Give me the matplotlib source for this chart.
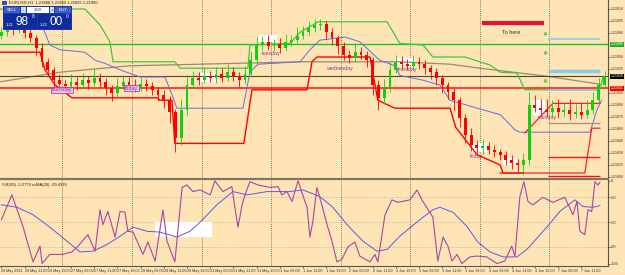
import numpy as np
import matplotlib.pyplot as plt
import matplotlib.transforms as mtrans
from matplotlib.patches import Rectangle
from matplotlib.lines import Line2D

plt.rcParams['font.family'] = ['Liberation Sans', 'DejaVu Sans']
BG = '#FFE4B5'

# EURUSD, 2-hour steps (bar index = hours from 26 May 03:00)
closes = [1.21981, 1.21986, 1.21984, 1.21989, 1.21980, 1.21974, 1.21961, 1.21944, 1.21934, 1.21921,
          1.21916, 1.21914, 1.21919, 1.21915, 1.21921, 1.21918, 1.21924, 1.21919, 1.21911, 1.21905,
          1.21914, 1.21919, 1.21915, 1.21911, 1.21916, 1.21914, 1.21909, 1.21903, 1.21896, 1.21881,
          1.21849, 1.21884, 1.21915, 1.21924, 1.21921, 1.21926, 1.21924, 1.21929, 1.21924, 1.21931,
          1.21926, 1.21921, 1.21929, 1.21946, 1.21965, 1.21969, 1.21964, 1.21966, 1.21961, 1.21969,
          1.21971, 1.21976, 1.21981, 1.21986, 1.21990, 1.21991, 1.21981, 1.21974, 1.21964, 1.21953,
          1.21949, 1.21956, 1.21953, 1.21946, 1.21915, 1.21899, 1.21911, 1.21934, 1.21944, 1.21941,
          1.21939, 1.21944, 1.21941, 1.21936, 1.21931, 1.21924, 1.21915, 1.21906, 1.21896, 1.21874,
          1.21853, 1.21840, 1.21836, 1.21839, 1.21834, 1.21831, 1.21828, 1.21821, 1.21818, 1.21815,
          1.21821, 1.21890, 1.21886, 1.21884, 1.21881, 1.21886, 1.21881, 1.21884, 1.21879, 1.21881,
          1.21878, 1.21884, 1.21896, 1.21915, 1.21926]
first_open = 1.21976
wick_up = [0.6, 0.9, 0.5, 0.8, 0.4, 0.5, 0.4, 0.6, 0.5, 0.4,
           0.8, 0.5, 1.0, 0.6, 0.9, 0.5, 1.1, 0.6, 0.5, 0.4,
           1.0, 0.8, 0.6, 0.7, 0.9, 0.6, 0.5, 0.4, 0.6, 0.5,
           0.4, 1.4, 1.2, 0.9, 0.7, 1.1, 0.6, 0.9, 0.7, 1.0,
           0.6, 0.5, 1.0, 1.2, 1.0, 0.7, 0.9, 0.6, 0.8, 1.0,
           0.7, 1.1, 0.8, 0.9, 0.7, 0.6, 0.4, 0.5, 0.4, 0.5,
           0.6, 1.0, 0.7, 0.5, 0.4, 0.6, 1.2, 1.0, 0.8, 0.7,
           0.6, 0.9, 0.6, 0.5, 0.4, 0.5, 0.4, 0.4, 0.5, 0.4,
           0.5, 0.8, 0.6, 0.9, 0.5, 0.6, 0.4, 0.5, 0.6, 0.4,
           0.9, 1.6, 1.3, 1.1, 1.4, 1.0, 1.2, 0.9, 1.3, 1.0,
           1.1, 1.2, 1.0, 0.9, 0.7]
wick_dn = [0.4, 0.5, 0.7, 0.4, 0.6, 0.5, 0.8, 0.6, 0.7, 0.9,
           0.5, 0.7, 0.4, 0.6, 0.5, 0.8, 0.4, 0.6, 0.9, 1.0,
           0.5, 0.4, 0.6, 0.5, 0.4, 0.6, 0.7, 0.8, 1.0, 1.4,
           1.8, 0.9, 0.6, 0.5, 0.6, 0.4, 0.5, 0.6, 0.5, 0.4,
           0.6, 0.8, 0.5, 0.4, 0.5, 0.6, 0.5, 0.7, 0.6, 0.4,
           0.5, 0.4, 0.3, 0.4, 0.5, 0.6, 0.8, 0.9, 1.0, 0.7,
           0.6, 0.5, 0.6, 0.9, 1.3, 1.5, 0.8, 0.5, 0.4, 0.6,
           0.5, 0.4, 0.6, 0.7, 0.8, 0.9, 1.0, 0.9, 1.2, 1.1,
           1.0, 0.8, 0.6, 0.7, 0.5, 0.6, 0.7, 0.6, 0.8, 0.9,
           1.2, 0.6, 0.5, 0.7, 0.6, 0.5, 0.7, 0.6, 0.8, 0.5,
           0.6, 0.4, 0.5, 0.4, 0.3]

# overlay lines (bar, price)
green_x = [-0.5, 28.8, 34, 37.4, 38.5, 59.8, 61.6, 85, 85.7, 99.5, 103, 109.2, 133, 137.4, 145.4,
           148.8, 159.8, 168.5, 172, 177.8, 180.5, 206.4, 207.4]
green_y = [1.22010, 1.22010, 1.21990, 1.21969, 1.21944, 1.21944, 1.21936, 1.21936, 1.21965, 1.21967,
           1.21981, 1.21994, 1.21994, 1.21967, 1.21965, 1.21950, 1.21950, 1.21940, 1.21931, 1.21930,
           1.21909, 1.21909, 1.21924]
red_x = [-0.5, 13.3, 15, 18.5, 24.3, 53.6, 54.7, 58.8, 59.8, 83.6, 86.4, 105.4, 107.1, 108.8, 127.1,
         129.8, 135.7, 154.7, 156.7, 164, 172, 173, 179.8]
red_y = [1.21956, 1.21956, 1.21934, 1.21915, 1.21899, 1.21899, 1.21896, 1.21896, 1.21842, 1.21842,
         1.21909, 1.21909, 1.21944, 1.21950, 1.21950, 1.21896, 1.21886, 1.21886, 1.21862, 1.21828,
         1.21815, 1.21805, 1.21805]
blue_x = [13.3, 16.7, 20.2, 28.8, 32.3, 35.7, 40.9, 47.8, 56.4, 58.8, 60.5, 83.3, 85.7, 88.5, 103,
          106.4, 109.8, 118.5, 123.6, 130.5, 135.7, 137.4, 145.4, 151.2, 154.7, 166, 172, 177.1,
          178.8, 203, 205.4, 207]
blue_y = [1.21996, 1.21965, 1.21959, 1.21956, 1.21946, 1.21942, 1.21934, 1.21925, 1.21925, 1.21903,
          1.21886, 1.21886, 1.21931, 1.21941, 1.21944, 1.21959, 1.21971, 1.21975, 1.21969, 1.21946,
          1.21939, 1.21927, 1.21921, 1.21915, 1.21896, 1.21884, 1.21878, 1.21859, 1.21856, 1.21856,
          1.21884, 1.21896]
ma_x = [-0.5, 20.2, 44.3, 68.5, 103, 137.4, 154.7, 165, 188.1, 206.4]
ma_y = [1.21919, 1.21931, 1.21939, 1.21941, 1.21944, 1.21944, 1.21941, 1.21936, 1.21926, 1.21916]
red2_x = [180.5, 188.1, 190.2, 206.4]
red2_y = [1.21855, 1.21884, 1.21892, 1.21892]
red3_x = [172, 201.2, 203.6, 206.4]
red3_y = [1.21805, 1.21805, 1.21861, 1.21861]

level_green = 1.21966
level_red = 1.21911
level_bid = 1.21926

notes = ['thursday', 'friday', 'tuesday', 'wednesday', 'thursday', 'friday', 'monday']
note_x = [17.4, 42.6, 89.8, 111.9, 136.4, 161.6, 185]
note_y = [1.21909, 1.21911, 1.21955, 1.21936, 1.21934, 1.21825, 1.21874]

# white annotation boxes (bar0, bar1, price0, price1)
boxes = [(88.5, 95.0, 1.21969, 1.21977), (68.5, 74.3, 1.21919, 1.21930),
         (135.7, 142.6, 1.21940, 1.21949), (161.6, 167.4, 1.21831, 1.21842),
         (173, 177.8, 1.21815, 1.21824), (183.3, 187.4, 1.21878, 1.21896)]

# Williams %R(20) and its MA
wpr_x = [0, 3.6, 7.4, 10.9, 13.3, 14, 16.7, 20.9, 24.3, 26.4, 29.8, 32.3, 34, 35, 36.7, 39.2, 40.9,
         42.6, 43.6, 45.4, 48.8, 50.5, 53, 55.7, 57.1, 59.8, 62.3, 64, 66, 68.5, 72, 73.6, 76.4, 79.5,
         80.5, 81.6, 83, 84, 85.7, 88.5, 92.6, 95.4, 96.7, 98.5, 100.2, 101.2, 102.3, 103.6, 105.4,
         106.4, 107.4, 108.8, 110.5, 112.3, 114, 115.7, 117.4, 119.5, 121.9, 123.6, 127.1, 128.8,
         129.8, 132.3, 134.7, 136.7, 140.9, 143.3, 145, 148.8, 150.5, 152.3, 154, 155.4, 157.1,
         158.8, 161.6, 164, 167.4, 170.9, 173.6, 176, 177.1, 178.8, 180.2, 181.6, 183.3, 186.7,
         190.2, 194.3, 197.1, 198.5, 199.5, 201.2, 202.3, 203.6, 204.7, 205.7, 206.4]
wpr_y = [-47, -17, -55, -98, -79, -100, -89, -89, -86, -79, -65, -85, -35, -53, -37, -68, -37,
         -38, -61, -62, -89, -74, -97, -35, -73, -98, -8, -5, -13, -11, -17, 0, -13, -7,
         -32, -56, -29, -17, -1, -5, -8, -7, -17, -13, -25, -13, 0, -14, -32,
         -68, -49, -8, -29, -53, -73, -98, -95, -80, -74, -91, -98, -89,
         -98, -41, -23, -26, -23, -11, -23, -44, -97, -68, -79, -97, -89,
         -100, -92, -91, -92, -100, -97, -79, -91, -19, -1, -25, -29, -20,
         -26, -20, -41, -25, -61, -65, -35, -37, -1, -5, -2]
wma_x = [0, 5.4, 10.9, 16.7, 22.6, 27.1, 31.6, 36.4, 40.9, 45.4, 50.2, 54.7, 60.5, 65, 68.5, 74.3,
         79.8, 84.7, 91.6, 99.5, 104, 109.8, 114.3, 119.2, 124.7, 129.5, 133, 137.4, 144.3, 148.8,
         151.2, 155.7, 160.5, 164.3, 168.5, 173, 177.8, 181.2, 188.1, 192.6, 197.8, 200.5, 204, 206.4]
wma_y = [-29, -32, -41, -56, -73, -86, -85, -77, -67, -56, -61, -62, -68, -61, -50, -29,
         -13, -17, -13, -13, -11, -19, -32, -53, -73, -85, -83, -67, -47, -35,
         -32, -38, -55, -74, -86, -92, -92, -83, -56, -37, -23, -31, -32, -30]

price_ticks = [1.22010, 1.21995, 1.21980, 1.21950, 1.21935, 1.21905, 1.21890, 1.21875,
               1.21860, 1.21845, 1.21830, 1.21815, 1.21800]
wpr_ticks = [0, -20, -50, -80, -100]
day_breaks = [21, 45, 69, 93, 117, 141, 165, 189]
time_pos = list(range(0, 201, 8))
time_labels = ['26 May 2021', '26 May 11:00', '26 May 19:00', '27 May 03:00', '27 May 11:00',
               '27 May 19:00', '28 May 03:00', '28 May 11:00', '28 May 19:00', '31 May 03:00',
               '31 May 11:00', '31 May 19:00', '1 Jun 03:00', '1 Jun 11:00', '1 Jun 19:00',
               '2 Jun 03:00', '2 Jun 11:00', '2 Jun 19:00', '3 Jun 03:00', '3 Jun 11:00',
               '3 Jun 19:00', '4 Jun 03:00', '4 Jun 11:00', '4 Jun 19:00', '7 Jun 03:00',
               '7 Jun 11:00']

W, H = 625, 275
fig = plt.figure(figsize=(6.25, 2.75), dpi=100, facecolor=BG)
ax = fig.add_axes([0, 1 - 178 / H, 608 / W, 178 / H], facecolor=BG)
ax2 = fig.add_axes([0, 1 - 266 / H, 608 / W, 86 / H], facecolor=BG)
XL = (-0.5, 209.2)

# ---- main chart
ax.set_xlim(XL)
ax.set_ylim(1.2179875, 1.2202125)
for s in ['top', 'left', 'bottom']:
    ax.spines[s].set_visible(False)
ax.spines['right'].set_color('#555555')
ax.spines['right'].set_linewidth(0.8)
ax.set_xticks([])
ax.yaxis.tick_right()
ax.set_yticks(price_ticks, ['%.5f' % p for p in price_ticks])
ax.tick_params(axis='y', labelsize=2.6, length=1.5, width=0.5, pad=0.7, colors='#333333')

for d in day_breaks:
    ax.axvline(d, color='#505050', ls=(0, (1, 1.5)), lw=0.6, zorder=1)
    ax2.axvline(d, color='#505050', ls=(0, (1, 1.5)), lw=0.6, zorder=1)

for b0, b1, p0, p1 in boxes:
    ax.add_patch(Rectangle((b0, p0), b1 - b0, p1 - p0, fc='white', ec='none', zorder=1.5))

ax.plot(ma_x, ma_y, color='#9A8A72', lw=0.9, zorder=2)
ax.axhline(level_bid, color='#4A4A30', lw=0.8, zorder=2)
ax.axhline(level_green, color='#22C022', lw=1.0, zorder=2)
ax.axhline(level_red, color='#FF1010', lw=1.1, zorder=2)
ax.plot(green_x, green_y, color='#3CC83C', lw=0.9, zorder=2.5)
ax.plot(blue_x, blue_y, color='#6A6AE0', lw=0.7, zorder=2.5)
ax.plot(red_x, red_y, color='#FF0000', lw=1.0, zorder=2.5)
ax.plot(red2_x, red2_y, color='#FF2020', lw=0.9, zorder=2.5)
ax.plot(red3_x, red3_y, color='#FF2020', lw=0.9, zorder=2.5)

# objects on the right
ax.hlines(1.21992, 165.7, 187.1, color='#DC143C', lw=3, zorder=3)
ax.text(172.6, 1.21980, 'To here', fontsize=4, color='#333333', va='center', zorder=3)
ax.hlines([1.21972, 1.21909], 188.5, 206.4, color='#87CEEB', lw=1.2, zorder=3)
ax.hlines(1.21932, 188.5, 206.4, color='#87CEEB', lw=2.5, zorder=3)
ax.hlines([1.21825, 1.21801], 188.5, 206.4, color='#FF1010', lw=1.0, zorder=3)
ax.hlines(1.21867, 188.5, 206.4, color='#A09A90', lw=1.0, zorder=3)
ax.plot([187.4] * 3, [1.21980, 1.21956, 1.21921], ls='none', marker='^', ms=2,
        color='#66CC66', zorder=3)

# candles
opens = [first_open] + closes[:-1]
cx = np.arange(len(closes)) * 2
for x, o, c, wu, wd in zip(cx, opens, closes, wick_up, wick_dn):
    col = '#10D010' if c >= o else '#FF0000'
    hi = max(o, c) + wu * 1e-4
    lo = min(o, c) - wd * 1e-4
    ax.vlines(x, lo, hi, color=col, lw=0.6, zorder=4)
    ax.bar(x, max(abs(c - o), 0.000012), bottom=min(o, c), width=1.0, color=col, lw=0, zorder=4)

for i, (t, x, y) in enumerate(zip(notes, note_x, note_y)):
    kw = {}
    if i < 2:
        kw['bbox'] = dict(fc='#E8C0E8', ec='#993399', lw=0.5, pad=0.4)
    ax.text(x, y, t, fontsize=3.8, color='#993399', va='center', ha='left', zorder=5, **kw)

tr = mtrans.blended_transform_factory(ax.transAxes, ax.transData)
for lev, col in [(level_green, '#22B022'), (level_bid, '#000000'), (level_red, '#FF0000')]:
    ax.text(1.004, lev, '%.5f' % lev, transform=tr, fontsize=2.6, color='white', va='center',
            ha='left', bbox=dict(fc=col, ec='none', pad=0.4), clip_on=False, zorder=6)

# ---- indicator panel
ax2.set_xlim(XL)
ax2.set_ylim(-103, 1)
ax2.spines['top'].set_visible(False)
ax2.spines['left'].set_visible(False)
for s in ['right', 'bottom']:
    ax2.spines[s].set_color('#555555')
    ax2.spines[s].set_linewidth(0.8)
ax2.yaxis.tick_right()
ax2.set_yticks(wpr_ticks, [str(v) for v in wpr_ticks])
ax2.tick_params(axis='y', labelsize=2.8, length=1.5, width=0.5, pad=0.8, colors='#333333')
ax2.set_xticks(time_pos, time_labels)
ax2.tick_params(axis='x', labelsize=2.7, length=1.5, width=0.5, pad=0.8, colors='#333333')
for lb in ax2.get_xticklabels():
    lb.set_ha('left')
for v in [-20, -50, -80]:
    ax2.axhline(v, color='#B8B0A0', ls=(0, (1, 1.5)), lw=0.6, zorder=1)
ax2.add_patch(Rectangle((53, -68), 19.6, 18, fc='white', ec='none', zorder=1.5))
ax2.plot(wma_x, wma_y, color='#5A5AE6', lw=0.7, zorder=3)
ax2.plot(wpr_x, wpr_y, color='#A845A8', lw=0.8, zorder=3)

# ---- panel separator and overlay in pixels
ov = fig.add_axes([0, 0, 1, 1])
ov.set_xlim(0, W)
ov.set_ylim(H, 0)
ov.axis('off')
ov.patch.set_alpha(0)
ov.add_line(Line2D([0, 608], [179, 179], color='#7D7763', lw=1.6))
ov.text(2, 185, '%R(20) -2.2779 ccMA(20) -29.4376', fontsize=3.0, color='#222222', va='center')
ov.text(9, 2.6, 'EURUSD,H1  1.21888 1.21960 1.21865 1.21960', fontsize=3.0, color='#222222',
        va='center')
ov.add_patch(Rectangle((1.5, 0.8), 5, 3.8, fc='#3355AA', ec='none'))

ov.add_patch(Rectangle((3, 6), 69, 24, fc='#1C3A9E', ec='none'))
ov.add_patch(Rectangle((4, 7), 16, 6, fc='#3B5DD0', ec='none'))
ov.text(12, 10, 'SELL', fontsize=3.0, color='white', ha='center', va='center')
ov.add_patch(Rectangle((21, 7), 5, 6, fc='#D8DCEB', ec='none'))
ov.text(23.5, 10, '-', fontsize=3.0, color='#222222', ha='center', va='center')
ov.add_patch(Rectangle((27, 7), 22, 6, fc='white', ec='none'))
ov.text(38, 10, '1.00', fontsize=3.0, color='#222222', ha='center', va='center')
ov.add_patch(Rectangle((50, 7), 4, 6, fc='#D8DCEB', ec='none'))
ov.text(52, 10, '+', fontsize=3.0, color='#222222', ha='center', va='center')
ov.add_patch(Rectangle((55, 7), 16, 6, fc='#3B5DD0', ec='none'))
ov.text(63, 10, 'BUY', fontsize=3.0, color='white', ha='center', va='center')
ov.add_patch(Rectangle((4, 14), 32.5, 15, fc='#0E2C9C', ec='none'))
ov.add_patch(Rectangle((38, 14), 33, 15, fc='#0E2C9C', ec='none'))
ov.text(5.5, 25.5, '1.21', fontsize=3.0, color='white', va='center')
ov.text(16, 22, '98', fontsize=8.5, color='white', va='center')
ov.text(32, 17, '8', fontsize=3.5, color='white', va='center')
ov.text(39.5, 25.5, '1.22', fontsize=3.0, color='white', va='center')
ov.text(50, 22, '00', fontsize=8.5, color='white', va='center')
ov.text(66, 17, '0', fontsize=3.5, color='white', va='center')

fig.savefig('out.png', dpi=100, facecolor=BG)
